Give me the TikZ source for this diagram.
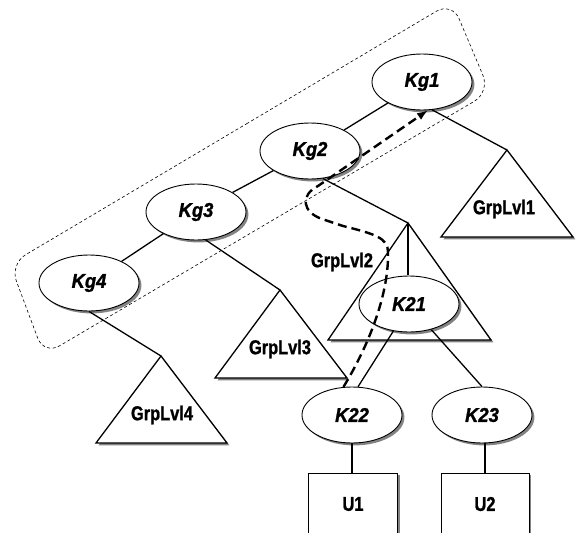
\documentclass[tikz,border=0pt]{standalone}
\usepackage{fontspec}
\setmainfont{Liberation Sans}
\newfontfamily\keysans{Liberation Sans Bold Italic}[FakeStretch=0.92, FakeBold=1.2]
\newfontfamily\narrowsans{Liberation Sans Bold}[FakeStretch=0.82, FakeBold=1.2]
\usetikzlibrary{shapes.geometric,shadows,arrows.meta}

\tikzset{
  grayshadow/.style={drop shadow={shadow xshift=2.4pt, shadow yshift=-2.4pt, fill=black!65, opacity=0.75}},
  keynode/.style={ellipse, draw, line width=0.9pt, fill=white, grayshadow,
    minimum width=100pt, minimum height=56pt, inner sep=0pt,
    font=\keysans\fontsize{20}{22}\selectfont},
  userbox/.style={rectangle, draw, line width=0.9pt, fill=white, grayshadow,
    minimum height=62pt, inner sep=0pt,
    font=\narrowsans\fontsize{20}{22}\selectfont},
  grptri/.style={draw, line width=1.3pt, fill=white, line join=miter, grayshadow},
  grplabel/.style={inner sep=0pt, font=\narrowsans\fontsize{20}{22}\selectfont},
  link/.style={line width=1.3pt},
  boundary/.style={line width=0.6pt, dash pattern=on 3pt off 2.5pt, rounded corners=18pt},
  trace/.style={line width=2.4pt, dash pattern=on 9pt off 5pt,
    -{Latex[length=11pt,width=8pt]}}
}

\begin{document}
\begin{tikzpicture}[x=1pt,y=-1pt]
\useasboundingbox (0,0) rectangle (579,533);

% key-group boundary
\draw[boundary] (231,133) -- (452,2) -- (490,92) -- (44,355) -- (10,264) -- cycle;

% group subtrees
\coordinate (g1) at (507,150);
\coordinate (g2) at (408,223);
\coordinate (g3) at (280,290);
\coordinate (g4) at (161,356);
\path[grptri] (g1) -- (573,237) -- (441,237) -- cycle;
\path[grptri] (g2) -- (491,340) -- (328,340) -- cycle;
\path[grptri] (g3) -- (347,378) -- (215,378) -- cycle;
\path[grptri] (g4) -- (227,443) -- (96,443) -- cycle;
\node[grplabel] (l1) at (504,209) {GrpLvl1};
\node[grplabel] (l2) at (342,262) {GrpLvl2};
\node[grplabel] (l3) at (280,349) {GrpLvl3};
\node[grplabel] (l4) at (162,415) {GrpLvl4};
\draw[link] (g2) -- (408,275);

% keys
\node[keynode] (kg1) at (422,82)  {Kg1};
\node[keynode] (kg2) at (310,151) {Kg2};
\node[keynode] (kg3) at (196,212) {Kg3};
\node[keynode] (kg4) at (89,283)  {Kg4};
\node[keynode] (k21) at (409,304) {K21};
\node[keynode] (k22) at (352,415) {K22};
\node[keynode] (k23) at (482,415) {K23};

% users
\node[userbox, minimum width=89pt] (u1) at (353,504) {U1};
\node[userbox, minimum width=88pt] (u2) at (485,504) {U2};

% tree edges
\draw[link] (kg1) -- (kg2);
\draw[link] (kg2) -- (kg3);
\draw[link] (kg3) -- (kg4);
\draw[link] (kg1.-70) -- (g1);
\draw[link] (kg2.-65) -- (g2);
\draw[link] (kg3.-71) -- (g3);
\draw[link] (kg4.south) -- (g4);
\draw[link] (k21.-120) -- (k22.78);
\draw[link] (k21.-49) -- (k23.north);
\draw[link] (k22.south) -- (k22.south |- u1.north);
\draw[link] (k23.south -| u2.north) -- (u2.north);

% rekey path
\draw[trace] (k22.107) .. controls (372,340) and (389,290) .. (388,252)
  .. controls (388,238) and (375,234) .. (343,226) -- (322,219)
  .. controls (302,212) and (300,195) .. (318,186) -- (kg1.-78);
\end{tikzpicture}
\end{document}
